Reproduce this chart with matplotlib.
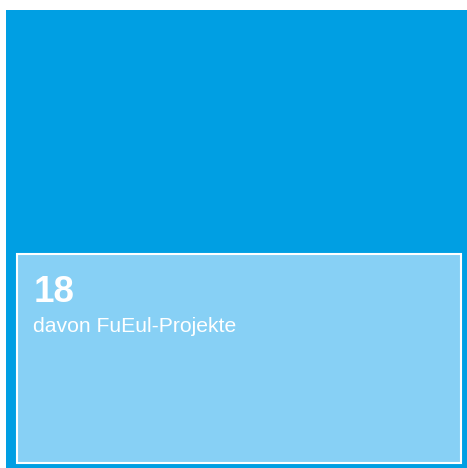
import matplotlib.pyplot as plt
from matplotlib.patches import Rectangle

# Werte (geschaetzt aus dem Bild)
total_value = 41
sub_values = [18]
sub_labels = ["davon FuEul-Projekte"]

outer_color = "#009FE3"
inner_color = "#87D0F5"

W, H = 467, 468
fig = plt.figure(figsize=(W / 100, H / 100), dpi=100)
ax = fig.add_axes([0, 0, 1, 1])
ax.set_xlim(0, W)
ax.set_ylim(H, 0)
ax.axis("off")

# aeusseres Rechteck (Gesamt)
ox0, oy0, ox1, oy1 = 6, 10, 467, 468
ax.add_patch(Rectangle((ox0, oy0), ox1 - ox0, oy1 - oy0, facecolor=outer_color,
                       edgecolor="none"))

# inneres Rechteck: Flaeche proportional zum Anteil
pad_l, pad_r, pad_b = 11, 6, 5
iw = (ox1 - ox0) - pad_l - pad_r
frac = sub_values[0] / total_value
ih = frac * (ox1 - ox0) * (oy1 - oy0) / iw
ix0 = ox0 + pad_l
iy1 = oy1 - pad_b
iy0 = iy1 - ih
ax.add_patch(Rectangle((ix0, iy0), iw, ih, facecolor=inner_color,
                       edgecolor="white", linewidth=1.5))

ax.text(ix0 + 17, iy0 + 48, str(sub_values[0]), color="white", fontsize=26.5,
        fontweight="bold", family="Liberation Sans", va="baseline")
ax.text(ix0 + 16, iy0 + 78, sub_labels[0], color="white", fontsize=15.2,
        family="Liberation Sans", va="baseline")

plt.savefig("out.png", dpi=100)
